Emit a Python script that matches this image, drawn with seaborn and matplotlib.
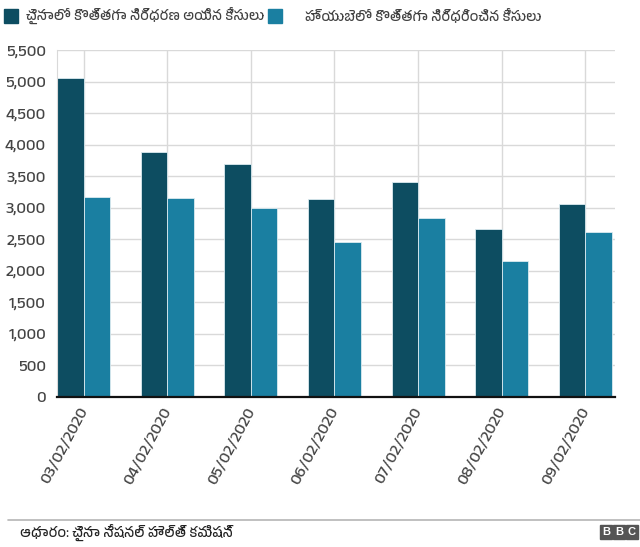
import matplotlib
matplotlib.use('Agg')
import pandas as pd
import matplotlib.pyplot as plt
import seaborn as sns
from matplotlib import font_manager
from matplotlib.patches import Rectangle
from matplotlib.lines import Line2D
from matplotlib.ticker import StrMethodFormatter

# data
dates = ['03/02/2020', '04/02/2020', '05/02/2020', '06/02/2020',
         '07/02/2020', '08/02/2020', '09/02/2020']
china_cases = [5050, 3887, 3694, 3143, 3399, 2656, 3062]
hubei_cases = [3170, 3156, 2987, 2447, 2841, 2147, 2618]
series_names = ['చైనాలో కొత్తగా నిర్ధరణ అయిన కేసులు',
                'హ్యుబెలో కొత్తగా నిర్ధరించిన కేసులు']
source_text = 'ఆధారం: చైనా నేషనల్ హెల్త్ కమిషన్'
colors = ['#0d4d61', '#1a7fa1']

df = pd.DataFrame({
    'Date': dates * 2,
    'Cases': china_cases + hubei_cases,
    'Series': [series_names[0]] * len(dates) + [series_names[1]] * len(dates),
})

sns.set_style('white')
# use a Telugu-capable font if one is around
telugu = sorted({f.name for f in font_manager.fontManager.ttflist
                 if any(k in f.name for k in ('Telugu', 'Lohit', 'Pothana', 'Gurajada', 'Ramabhadra'))})
plt.rcParams['font.family'] = telugu + ['Liberation Sans', 'DejaVu Sans']

fig = plt.figure(figsize=(6.4, 5.47), dpi=100)
W, H = 640, 547
ax = fig.add_axes([57 / W, 1 - 396.7 / H, (615 - 57) / W, (396.7 - 50) / H])

sns.barplot(data=df, x='Date', y='Cases', hue='Series', palette=colors,
            width=0.634, saturation=1, edgecolor='#dcebf0', linewidth=0.6,
            legend=False, ax=ax)

ax.set_xlim(-0.317, 6.353)
ax.set_ylim(0, 5500)
ax.set_yticks(range(0, 5501, 500))
ax.yaxis.set_major_formatter(StrMethodFormatter('{x:,.0f}'))
ax.set_xlabel('')
ax.set_ylabel('')
ax.set_axisbelow(True)
ax.grid(True, color='#d9d9d9', linewidth=1)
for s in ['top', 'right']:
    ax.spines[s].set_visible(False)
ax.spines['left'].set_color('#d9d9d9')
ax.spines['bottom'].set_color('#111111')
ax.spines['bottom'].set_linewidth(1.6)
ax.tick_params(axis='both', length=0, labelsize=12, labelcolor='#444444')
ax.tick_params(axis='y', pad=8)
ax.tick_params(axis='x', pad=8)
plt.setp(ax.get_xticklabels(), rotation=62, ha='right', va='center',
         rotation_mode='anchor')

# legend at the top
for i, (x0, tx) in enumerate([(3.5, 26.5), (268, 305)]):
    fig.add_artist(Rectangle((x0 / W, 1 - 22.5 / H), 14 / W, 14 / H,
                             transform=fig.transFigure, color=colors[i]))
    fig.text(tx / W, 1 - 15.5 / H, series_names[i], fontsize=10,
             color='#404040', va='center', ha='left')

# footer
fig.add_artist(Line2D([8 / W, 1], [1 - 520 / H] * 2, color='#b5b5b5',
                      linewidth=1.2, transform=fig.transFigure))
fig.text(20 / W, 1 - 532 / H, source_text, fontsize=10, color='#222222',
         va='center', ha='left')
for i, letter in enumerate('BBC'):
    x0 = 600 + i * 13
    fig.add_artist(Rectangle((x0 / W, 1 - 539 / H), 12 / W, 14 / H,
                             transform=fig.transFigure, color='#555555'))
    fig.text((x0 + 6) / W, 1 - 532 / H, letter, fontsize=8, color='white',
             fontweight='bold', ha='center', va='center',
             family=['Liberation Sans', 'DejaVu Sans'])

fig.savefig('out.png', dpi=100)
